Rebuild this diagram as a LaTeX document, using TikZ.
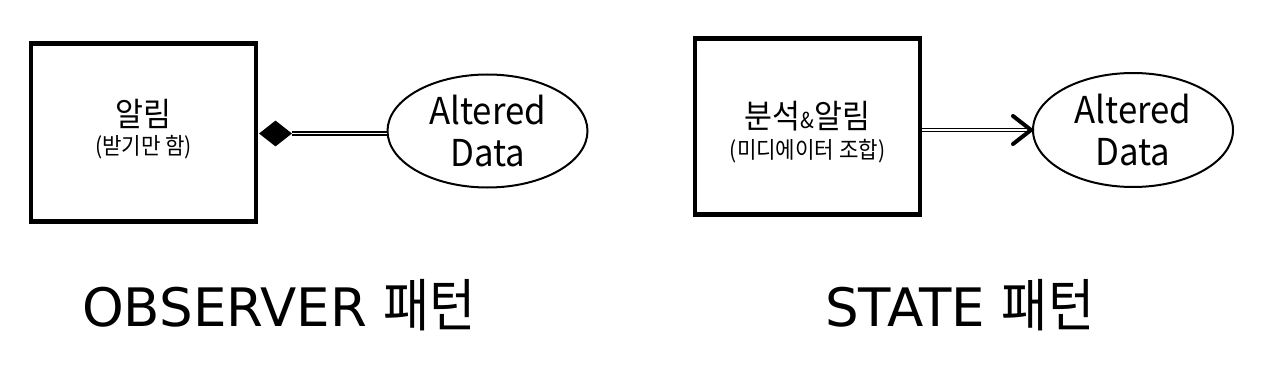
\documentclass[tikz,border=0pt]{standalone}
\usepackage{fontspec}
\usepackage{graphicx}
\setmainfont{Noto Sans CJK KR}
\newfontfamily\dejavu{DejaVu Sans}
\usetikzlibrary{shapes.geometric,calc}
\begin{document}
\begin{tikzpicture}[x=1pt,y=-1pt,
  box/.style={draw, line width=4.5pt, minimum width=225pt, minimum height=178pt, inner sep=0pt},
  ell/.style={draw, ellipse, line width=2pt, minimum width=200pt, minimum height=113pt, inner sep=0pt, align=center, font=\fontsize{37}{42}\selectfont},
  bigtxt/.style={inner sep=0pt, font=\fontsize{33}{36}\selectfont},
  smalltxt/.style={inner sep=0pt, font=\fontsize{23}{26}\selectfont},
  dbl/.style={double, double distance=1.3pt, line width=1.6pt},
  caption/.style={anchor=base west, inner sep=0pt, font=\fontsize{53}{60}\selectfont},
  dia/.style={diamond, fill=black, inner sep=0pt, minimum width=33pt, minimum height=26pt},
  headline/.style={line width=4pt, line cap=round, line join=miter}
]
\useasboundingbox[fill=white] (0,0) rectangle (1280,377);

% OBSERVER
\node[box] (b1) at (143.5,132.5) {};
\node[bigtxt] (b1a) at (143.5,114) {\scalebox{0.92}[1]{알림}};
\node[smalltxt] (b1b) at (143.5,147) {\scalebox{0.92}[1]{(받기만 함)}};
\node[ell] (e1) at (487.5,131) {\scalebox{0.94}[1]{Altered}\\\scalebox{0.94}[1]{Data}};
\node[dia] (d1) at (275.5,133.5) {};
\draw[dbl] (d1.east) -- (d1.east -| e1.west);
\node[caption] (c1) at (82,326) {{\dejavu OBSERVER }{\fontsize{57}{60}\selectfont\scalebox{0.88}[1]{패턴}}};

% STATE
\node[box, minimum height=176pt] (b2) at (807.5,126.5) {};
\node[bigtxt] (b2a) at (807.5,116) {\scalebox{0.92}[1]{분석{\fontsize{22}{22}\selectfont\&}알림}};
\node[smalltxt] (b2b) at (807.5,151) {\scalebox{0.92}[1]{(미디에이터 조합)}};
\node[ell, minimum height=114pt] (e2) at (1133,130) {\scalebox{0.94}[1]{Altered}\\\scalebox{0.94}[1]{Data}};
\coordinate (tip) at ($(e2.west)+(-1,0)$);
\draw[dbl] (b2.east |- tip) -- (tip);
\draw[headline] ($(tip)+(-18,-14)$) -- (tip) -- ($(tip)+(-18,14)$);
\node[caption] (c2) at (825,326) {{\dejavu STATE }{\fontsize{57}{60}\selectfont\scalebox{0.88}[1]{패턴}}};
\end{tikzpicture}
\end{document}
